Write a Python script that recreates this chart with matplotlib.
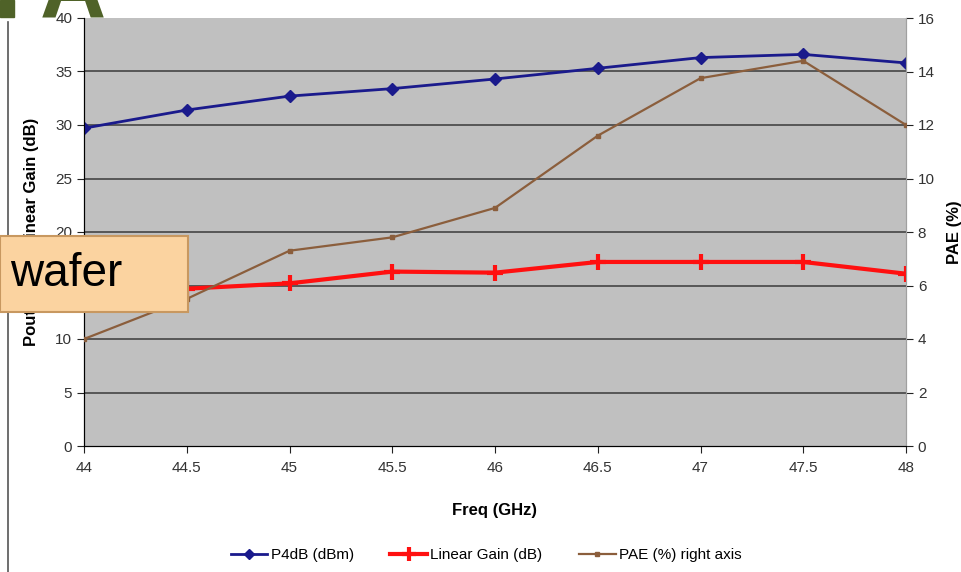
import numpy as np
import matplotlib.pyplot as plt
from matplotlib.patches import Rectangle, FancyBboxPatch
from matplotlib.lines import Line2D


# ================================
# Datos
# ================================

freq = [44, 44.5, 45, 45.5, 46, 46.5, 47, 47.5, 48]
p4db = [29.7, 31.4, 32.7, 33.4, 34.3, 35.3, 36.3, 36.6, 35.8]
lin_gain = [14.3, 14.7, 15.2, 16.3, 16.2, 17.2, 17.2, 17.2, 16.1]
pae = [4.0, 5.5, 7.3, 7.8, 8.9, 11.6, 13.75, 14.4, 12.0]

left_ticks = np.arange(0, 41, 5)
right_ticks = np.arange(0, 17, 2)
x_ticks = np.arange(44, 48.01, 0.5)
x_ticklabels = ["44", "44.5", "45", "45.5", "46", "46.5", "47", "47.5", "48"]

plt.rcParams["font.family"] = ["Liberation Sans", "DejaVu Sans"]


# ================================
# Grafica
# ================================

fig = plt.figure(figsize=(9.61, 5.72), dpi=100)
W, H = 961, 572
ax = fig.add_axes([84 / W, 1 - 446 / H, (906 - 84) / W, (446 - 18) / H])
ax.set_facecolor("#c0c0c0")

ax.set_xlim(44, 48)
ax.set_ylim(0, 40)
ax.set_yticks(left_ticks)
ax.set_xticks(x_ticks)
ax.set_xticklabels(x_ticklabels)
for y in left_ticks[1:-1]:
    ax.axhline(y, color="#3a3a3a", lw=1.1, zorder=1)

ax.plot(freq, p4db, color="#1a1a8c", lw=2, marker="D", ms=6, zorder=4)
ax.plot(freq, lin_gain, color="#ff1010", lw=3, marker="+", ms=11, mew=3, zorder=4)

ax2 = ax.twinx()
ax2.set_ylim(0, 16)
ax2.set_yticks(right_ticks)
ax2.plot(freq, pae, color="#8b5e3c", lw=1.6, marker="s", ms=3, zorder=4)

for a in (ax, ax2):
    a.spines["top"].set_visible(False)
    a.spines["right"].set_color("#a0a0a0")
    a.tick_params(direction="out", length=5, labelsize=11, colors="#222222")
    for lab in a.get_xticklabels() + a.get_yticklabels():
        lab.set_color("#333333")
ax.tick_params(axis="x", pad=6)

ax.set_xlabel("Freq (GHz)", fontsize=12, fontweight="bold", labelpad=20)
ax.set_ylabel("Pout (dBm), Linear Gain (dB)", fontsize=12, fontweight="bold", labelpad=12)
ax2.set_ylabel("PAE (%)", fontsize=12, fontweight="bold", labelpad=9)

handles = [
    Line2D([], [], color="#1a1a8c", lw=2, marker="D", ms=5),
    Line2D([], [], color="#ff1010", lw=3, marker="+", ms=10, mew=3),
    Line2D([], [], color="#8b5e3c", lw=1.6, marker="s", ms=2.5),
]
fig.legend(handles, ["P4dB (dBm)", "Linear Gain (dB)", "PAE (%) right axis"],
           loc="center", bbox_to_anchor=(486 / W, 1 - 555 / H), ncol=3, frameon=False,
           prop={"size": 11}, handlelength=2.4, handletextpad=0.2,
           columnspacing=2.4)


# ================================
# Decoracion de la diapositiva
# ================================

fig.add_artist(Line2D([8 / W, 8 / W], [0, 1 - 22 / H], color="#555555", lw=1.2))
fig.add_artist(Rectangle((0, 1 - 17 / H), 14 / W, 17 / H, color="#4f6228"))
fig.text(40 / W, 1 - 17 / H, "A", fontsize=66, fontweight="bold", color="#4f6228",
         va="baseline", ha="left")

box = FancyBboxPatch((0, 1 - 312 / H), 188 / W, 76 / H, boxstyle="square,pad=0",
                     facecolor="#fbd3a0", edgecolor="#c89860", lw=1.5,
                     transform=fig.transFigure, zorder=10)
fig.add_artist(box)
fig.text(10 / W, 1 - 274 / H, "wafer", fontsize=33, color="black", va="center",
         ha="left", zorder=11)

plt.savefig("out.png", dpi=100)
